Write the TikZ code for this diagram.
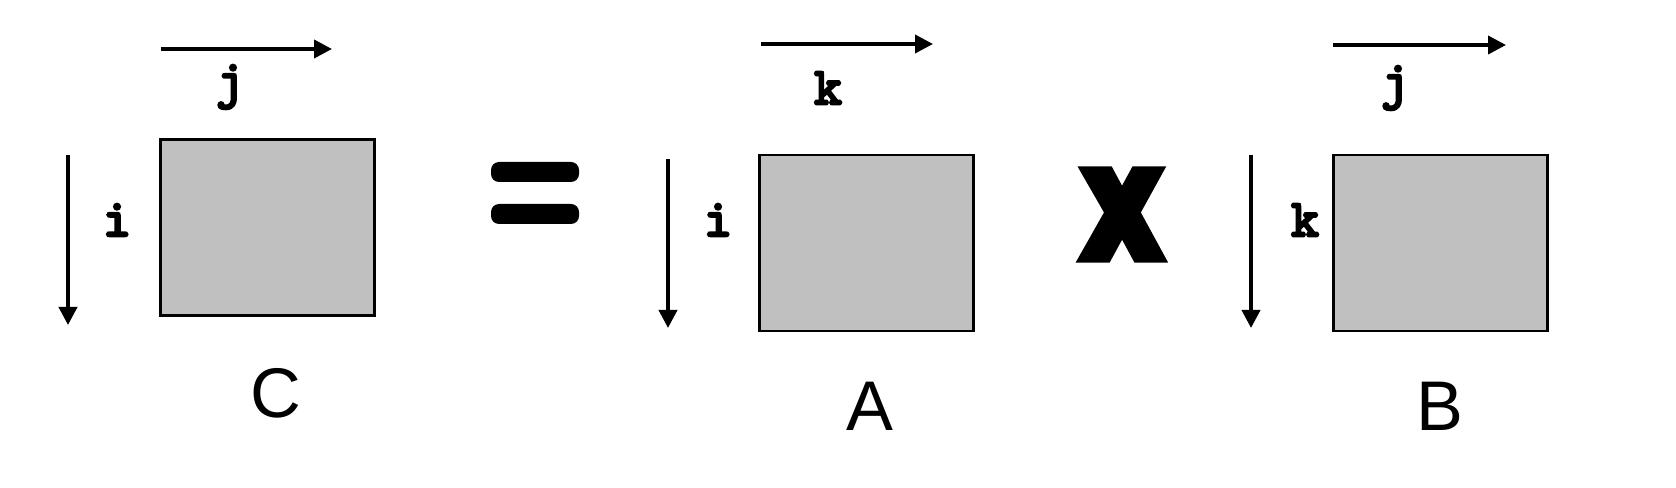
\documentclass[tikz,border=0pt]{standalone}
\usepackage{fontspec}
\setmainfont{Liberation Sans}
\newfontfamily\opfont{Liberation Sans}[UprightFont={* Bold}, FakeBold=14, FakeStretch=0.86]
\newfontfamily\idxfont{lmmono10-regular}[Extension=.otf, FakeBold=5]
\usepackage{xcolor}
\usetikzlibrary{arrows.meta,positioning}

\definecolor{matgray}{RGB}{192,192,192}

\begin{document}
\begin{tikzpicture}[x=0.1mm, y=-0.1mm,
    mat/.style={rectangle, draw=black, fill=matgray, line width=0.6pt,
                minimum width=21.4mm, minimum height=17.6mm, inner sep=0pt},
    arr/.style={-{Triangle[length=1.8mm, width=1.8mm]}, line width=1.1pt},
    idx/.style={font=\idxfont\fontsize{15}{17}\selectfont, inner sep=0pt},
    mname/.style={font=\fontsize{20}{24}\selectfont, inner sep=0pt},
    bar/.style={fill=black, rounded corners=0.8mm, minimum width=8.8mm,
                minimum height=2mm, inner sep=0pt},
    op/.style={font=\opfont\fontsize{33}{40}\selectfont, inner sep=0pt}
  ]
  \useasboundingbox (0,0) rectangle (1676,488);

  %% ── C matrix ────────────────────────────────────────────────────
  \node[mat]        (C)   at (267.5,227.5) {};
  \node[idx]        (Cj)  at (230,87)      {j};
  \node[idx]        (Ci)  at (117,220)     {i};
  \node[mname]      (Cn)  at (276,393)     {C};
  \coordinate (Ct1) at (161,49);   \coordinate (Ct2) at (332,49);
  \coordinate (Cs1) at (68,155);   \coordinate (Cs2) at (68,325);
  \draw[arr] (Ct1)--(Ct2);
  \draw[arr] (Cs1)--(Cs2);

  %% ── equals sign ─────────────────────────────────────────────────
  \node[bar] (eq1) at (535,172) {};
  \node[bar] (eq2) at (535,214) {};

  %% ── A matrix ────────────────────────────────────────────────────
  \node[mat]        (A)   at (866.5,243)   {};
  \node[idx]        (Ak)  at (828,88)      {k};
  \node[idx]        (Ai)  at (718,220)     {i};
  \node[mname]      (An)  at (870,406)     {A};
  \coordinate (At1) at (761,44);   \coordinate (At2) at (933,44);
  \coordinate (As1) at (668,159);  \coordinate (As2) at (668,328);
  \draw[arr] (At1)--(At2);
  \draw[arr] (As1)--(As2);

  %% ── times sign ──────────────────────────────────────────────────
  \node[op] (times) at (1122,214.5) {X};

  %% ── B matrix ────────────────────────────────────────────────────
  \node[mat]        (B)   at (1440.5,243)  {};
  \node[idx]        (Bj)  at (1395,88)     {j};
  \node[idx]        (Bk)  at (1305,220)    {k};
  \node[mname]      (Bn)  at (1440,406)    {B};
  \coordinate (Bt1) at (1333,45);  \coordinate (Bt2) at (1506,45);
  \coordinate (Bs1) at (1251,155); \coordinate (Bs2) at (1251,328);
  \draw[arr] (Bt1)--(Bt2);
  \draw[arr] (Bs1)--(Bs2);

\end{tikzpicture}
\end{document}
